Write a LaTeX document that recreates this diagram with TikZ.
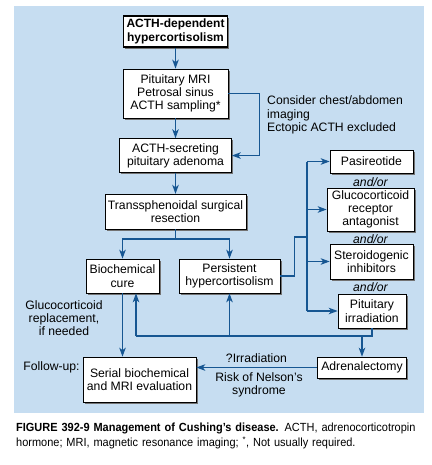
\documentclass[tikz,border=0pt]{standalone}
\usepackage{fontspec}
\setmainfont{Liberation Sans}
\newfontfamily\capfont[FakeStretch=0.93]{Liberation Sans}
\usetikzlibrary{positioning,arrows.meta,shadows}
\definecolor{bgblue}{RGB}{198,221,241}
\definecolor{flowblue}{RGB}{22,86,146}

\begin{document}
\begin{tikzpicture}[
    x=1pt, y=-1pt,
    font=\fontsize{12.2}{13.3}\selectfont,
    box/.style={rectangle, draw=black, line width=0.6pt, fill=white, align=center, inner sep=2pt,
        drop shadow={shadow xshift=1.8pt, shadow yshift=-1.8pt, fill=black!55, opacity=1}},
    arrow/.style={-{Stealth[length=9pt,width=6.5pt,inset=2.5pt]}, line width=1.4pt, draw=flowblue},
    line/.style={line width=1.4pt, draw=flowblue},
    andor/.style={inner sep=0pt, font=\fontsize{12.2}{13.3}\selectfont\itshape}
]
    \useasboundingbox (0,0) rectangle (431,465);
    \fill[bgblue] (14,6) rectangle (424,413);

    % main column
    \node[box, line width=1.3pt, font=\fontsize{12}{13.3}\selectfont\bfseries, minimum width=104pt, minimum height=31pt] (top) at (175.5,31.5) {ACTH-dependent\\hypercortisolism};
    \node[box, below=21pt of top, minimum width=105pt, minimum height=49pt] (mri) {Pituitary MRI\\Petrosal sinus\\ACTH sampling*};
    \node[box, below=20pt of mri, minimum width=112pt, minimum height=34pt] (adenoma) {ACTH-secreting\\pituitary adenoma};
    \node[box, below=21pt of adenoma, minimum width=141pt, minimum height=35pt] (surg) {Transsphenoidal surgical\\resection};
    \node[box, minimum width=73pt, minimum height=34pt] (cure) at (122.5,276) {Biochemical\\cure};
    \node[box, minimum width=101pt, minimum height=34pt] (persist) at (229.5,276) {Persistent\\hypercortisolism};

    % second-line options
    \node[box, minimum width=83pt, minimum height=23pt] (pasi) at (371.5,161.5) {Pasireotide};
    \node[box, minimum width=87pt, minimum height=43pt] (grant) at (370.5,209.5) {Glucocorticoid\\receptor\\antagonist};
    \node[box, minimum width=83pt, minimum height=35pt] (steroid) at (371.5,261.5) {Steroidogenic\\inhibitors};
    \node[box, minimum width=68pt, minimum height=34pt] (pitirr) at (372,311) {Pituitary\\irradiation};
    \node[andor] (andor1) at (370.5,182) {and/or};
    \node[andor] (andor2) at (370.5,239) {and/or};
    \node[andor] (andor3) at (370.5,287) {and/or};

    % bottom row
    \node[box, minimum width=89pt, minimum height=21pt] (adrenal) at (362,367.5) {Adrenalectomy};
    \node[box, minimum width=113pt, minimum height=45pt] (serial) at (139.5,379.5) {Serial biochemical\\and MRI evaluation};

    % labels
    \node[inner sep=0pt, anchor=west, align=left] (ectopic) at (267,115) {Consider chest/abdomen\\imaging\\Ectopic ACTH excluded};
    \node[inner sep=0pt, align=center] (gcrep) at (64,318) {Glucocorticoid\\replacement,\\if needed};
    \node[inner sep=0pt] (followup) at (51.5,367) {Follow-up:};
    \node[inner sep=0pt] (irrad) at (256.5,358) {?Irradiation};
    \node[inner sep=0pt, align=center] (nelson) at (259,384.5) {Risk of Nelson’s\\syndrome};

    % junction points
    \coordinate (split) at (175.5,239);
    \coordinate (bus) at (307,237);
    \coordinate (ret) at (136,336);

    \draw[arrow] (top) -- (mri);
    \draw[arrow] (mri) -- (adenoma);
    \draw[arrow] (mri.east) -- ++(31pt,0) |- (adenoma.east);
    \draw[arrow] (adenoma) -- (surg);
    \draw[line] (surg) -- (split);
    \draw[arrow] (split) -| (cure);
    \draw[arrow] (split) -| (persist);

    \draw[line] (persist.east) -- ++(14pt,0) |- (bus);
    \draw[line] (bus |- pasi.west) -- (bus |- pitirr.west);
    \foreach \opt in {pasi,grant,steroid,pitirr}
        \draw[arrow] (bus |- \opt.west) -- (\opt.west);

    \draw[line] (pitirr.south) |- (ret);
    \draw[arrow] (ret) -- (ret |- cure.south);
    \draw[arrow] (persist.south |- ret) -- (persist.south);
    \draw[arrow] (adrenal.north |- ret) -- (adrenal.north);
    \draw[arrow] (cure.south) -- (cure.south |- serial.north);
    \draw[arrow] (adrenal.west) -- (adrenal.west -| serial.east);

    % caption
    \node[anchor=north west, inner sep=0pt, text width=408pt, align=left, font=\capfont\fontsize{11.8}{15}\selectfont] (caption) at (16,423)
        {\makebox[408pt][s]{\textbf{FIGURE 392-9 Management of Cushing’s disease.} ACTH, adrenocorticotropin}\\
        hormone; MRI, magnetic resonance imaging; \textsuperscript{*}, Not usually required.};
\end{tikzpicture}
\end{document}
